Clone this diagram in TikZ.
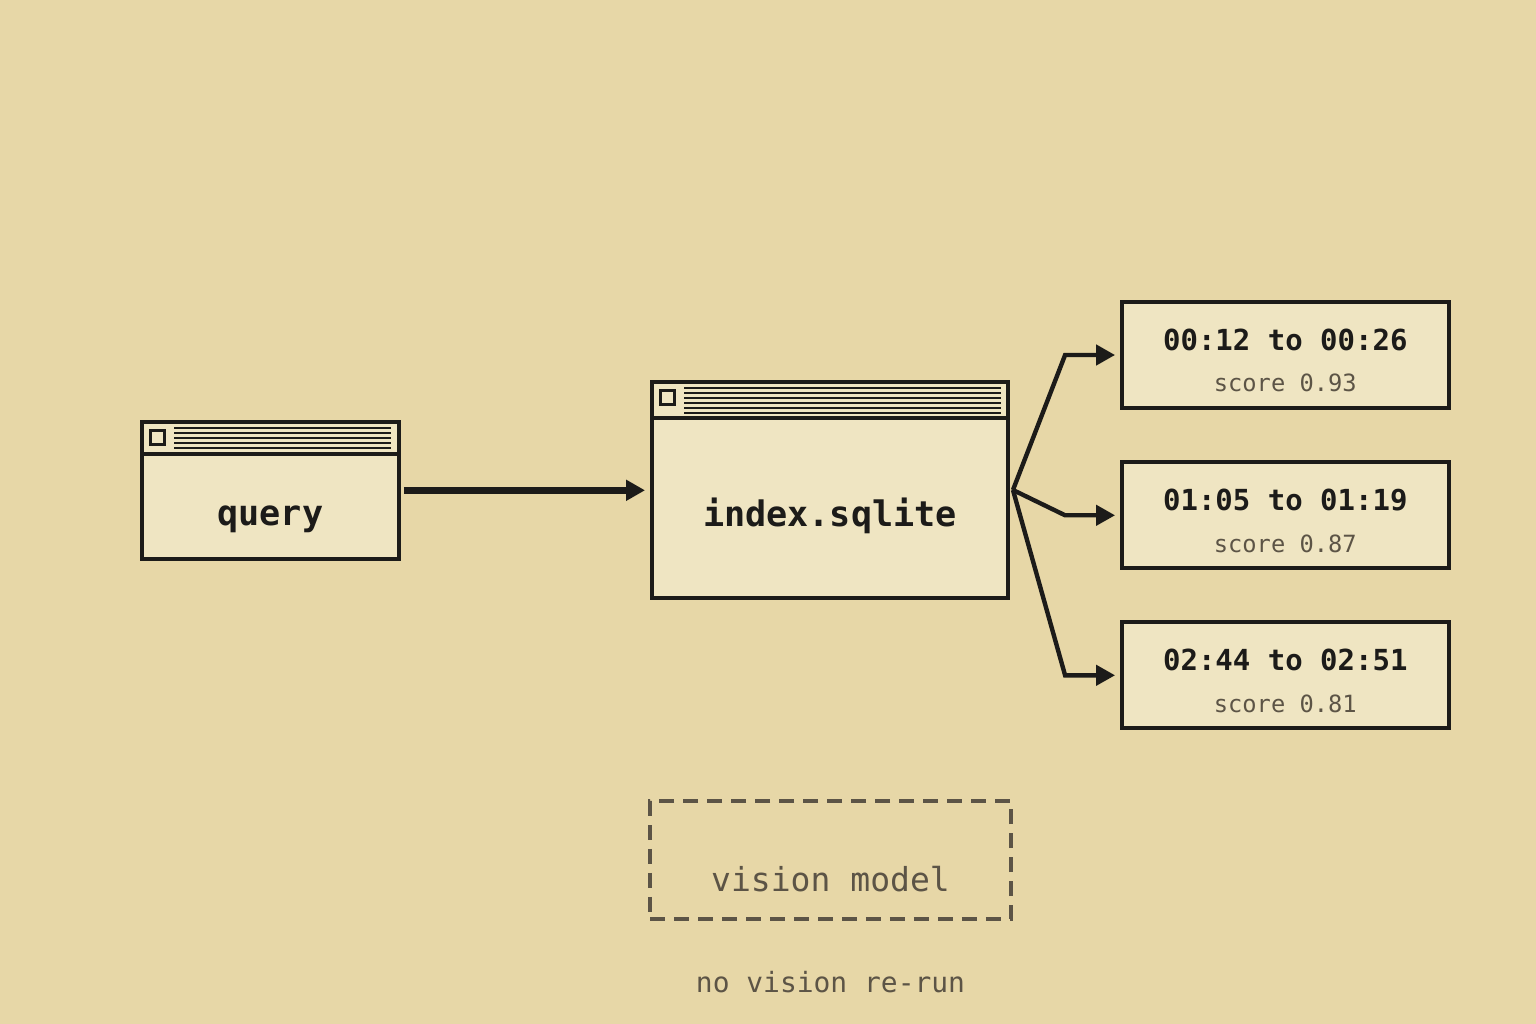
\documentclass[tikz,border=0pt]{standalone}
\usepackage{fontspec}
\setmonofont{DejaVu Sans Mono}
\usetikzlibrary{positioning}
\usetikzlibrary{calc}
\usetikzlibrary{arrows.meta}
\definecolor{paper}{HTML}{E7D7A7}
\definecolor{winfill}{HTML}{EFE5C2}
\definecolor{ink}{HTML}{1C1B19}
\definecolor{muted}{HTML}{5C5446}

\begin{document}
\begin{tikzpicture}[x=0.02cm, y=-0.02cm,
    win/.style={draw=ink, fill=winfill, line width=2.27pt, inner sep=0pt, outer sep=0pt},
    frameline/.style={ink, line width=2.27pt},
    result/.style={win, minimum width=6.53cm, minimum height=2.12cm},
    ghost/.style={draw=muted, line width=1.9pt, dash pattern=on 0.3cm off 0.18cm, inner sep=0pt, outer sep=0pt, minimum width=7.22cm, minimum height=2.36cm},
    titleline/.style={ink, line width=1.2pt},
    closebox/.style={ink, line width=1.7pt},
    bigtext/.style={anchor=base, text=ink, font=\fontsize{20pt}{24pt}\selectfont\ttfamily\bfseries},
    timetext/.style={anchor=base, text=ink, font=\fontsize{16.5pt}{20pt}\selectfont\ttfamily\bfseries},
    scoretext/.style={anchor=base, text=muted, font=\fontsize{13.5pt}{16pt}\selectfont\ttfamily},
    ghosttext/.style={anchor=base, text=muted, font=\fontsize{18.8pt}{22pt}\selectfont\ttfamily},
    notetext/.style={anchor=base, text=muted, font=\fontsize{15.9pt}{19pt}\selectfont\ttfamily},
    bigflow/.style={ink, line width=4.2pt, -{Triangle[length=0.38cm,width=0.4cm]}},
    fanflow/.style={ink, line width=2.5pt, -{Triangle[length=0.38cm,width=0.4cm]}}
]

\fill[paper] (0,0) rectangle (1536,1024);
\useasboundingbox (0,0) rectangle (1536,1024);

% query window
\node[win, minimum width=5.13cm, minimum height=2.73cm] (query) at (270.3,490.3) {};
\draw[frameline] ($(query.north west)+(0,32.3)$) -- ($(query.north east)+(0,32.3)$);
\draw[closebox] ($(query.north west)+(8.5,8.5)$) rectangle ++(13.7,13.7);
\foreach \k in {0,...,4}
  \draw[titleline] ($(query.north west)+(32,5.7+5*\k)$) -- ($(query.north east)+(-7.5,5.7+5*\k)$);
\node[bigtext] (querylabel) at ($(query.center)+(0,34.7)$) {query};

% index window
\node[win, minimum width=7.12cm, minimum height=4.32cm] (index) at (830,490) {};
\draw[frameline] ($(index.north west)+(0,36.3)$) -- ($(index.north east)+(0,36.3)$);
\draw[closebox] ($(index.north west)+(8.5,8.5)$) rectangle ++(13.7,13.7);
\foreach \k in {0,...,5}
  \draw[titleline] ($(index.north west)+(32,5.7+5*\k)$) -- ($(index.north east)+(-7,5.7+5*\k)$);
\node[bigtext] (indexlabel) at ($(index.center)+(0,36)$) {index.sqlite};

% results
\node[result] (r1) at (1285.3,355) {};
\node[result] (r2) at (1285.3,515.3) {};
\node[result] (r3) at (1285.3,675.3) {};

\node[timetext] (r1time) at ($(r1.center)+(0,-5)$) {00:12 to 00:26};
\node[scoretext] (r1score) at ($(r1.center)+(0,36.7)$) {score 0.93};
\node[timetext] (r2time) at ($(r2.center)+(0,-5)$) {01:05 to 01:19};
\node[scoretext] (r2score) at ($(r2.center)+(0,36.7)$) {score 0.87};
\node[timetext] (r3time) at ($(r3.center)+(0,-5)$) {02:44 to 02:51};
\node[scoretext] (r3score) at ($(r3.center)+(0,36.7)$) {score 0.81};

% vision model, not used
\node[ghost] (vision) at (830.5,860) {};
\node[ghosttext] (visionlabel) at ($(vision.center)+(0,31.7)$) {vision model};
\node[notetext] (note) at ($(vision.south)+(0,73.7)$) {no vision re-run};

% arrows
\draw[bigflow, shorten <=0.106cm, shorten >=0.14cm] (query.east) -- (query.east -| index.west);
\draw[fanflow] ([xshift=0.1cm]index.east) -- ([xshift=-1.14cm]r1.west) -- ([xshift=-0.14cm]r1.west);
\draw[fanflow] ([xshift=0.1cm]index.east) -- ([xshift=-1.14cm]r2.west) -- ([xshift=-0.14cm]r2.west);
\draw[fanflow] ([xshift=0.1cm]index.east) -- ([xshift=-1.14cm]r3.west) -- ([xshift=-0.14cm]r3.west);

\end{tikzpicture}
\end{document}
